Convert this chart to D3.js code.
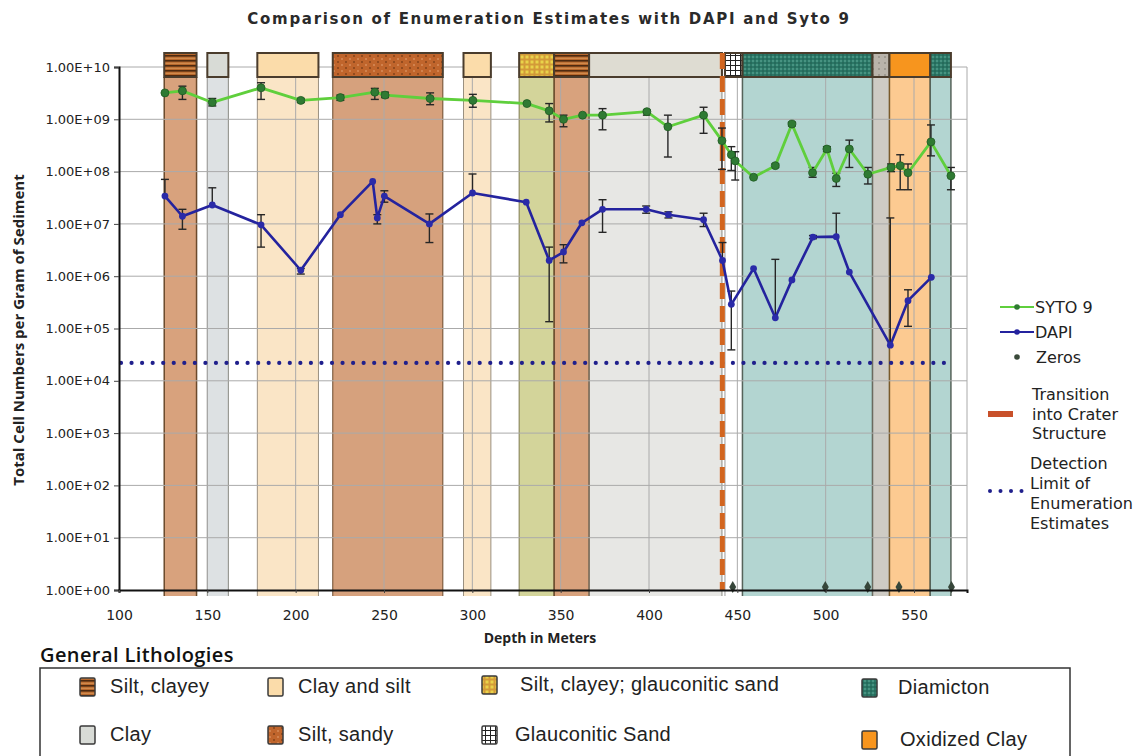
<!DOCTYPE html>
<html>
<head>
<meta charset="utf-8">
<script src="https://cdn.jsdelivr.net/npm/d3@7"></script>
<style>
  body { margin: 0; background: #fff; }
  svg { display: block; }
</style>
</head>
<body>
<svg id="chart" width="1147" height="756"></svg>
<script>
// ---- SYTO 9 counts (cells per gram) ----
const sytoDepth = [126, 135.9, 152.8, 180.4, 202.9, 225.3, 244.8, 250.6, 276.1, 300.3, 330.9, 343.5, 351.6, 362.4, 373.7, 398.8, 410.7, 430.9, 441.3, 446.6, 448.8, 459.2, 471.5, 480.9, 492.6, 500.7, 506, 513.4, 523.9, 537, 542.2, 546.6, 559.6, 570.9];
const sytoValue = [3.2e9, 3.5e9, 2.1e9, 4.0e9, 2.3e9, 2.6e9, 3.3e9, 2.9e9, 2.5e9, 2.3e9, 2.0e9, 1.45e9, 1.0e9, 1.2e9, 1.2e9, 1.4e9, 7.2e8, 1.2e9, 3.9e8, 2.1e8, 1.6e8, 7.8e7, 1.3e8, 8.1e8, 9.5e7, 2.7e8, 7.4e7, 2.7e8, 8.9e7, 1.2e8, 1.3e8, 9.5e7, 3.7e8, 8.3e7];
const sytoLow   = [null, 2.4e9, 1.8e9, 2.4e9, 2.1e9, 2.3e9, 2.4e9, 2.6e9, 1.9e9, 1.7e9, null, 8.9e8, 7.2e8, null, 6.3e8, 1.2e9, 1.9e8, 5.4e8, 1.1e8, 1.05e8, 6.9e7, null, 1.2e8, 7.5e8, 7.8e7, 2.4e8, 5.2e7, 1.2e8, 5.8e7, 1.0e8, 4.5e7, 4.5e7, 2.0e8, 4.5e7];
const sytoHigh  = [null, 4.3e9, 2.5e9, 5.0e9, 2.5e9, 2.9e9, 3.9e9, 3.3e9, 3.2e9, 3.0e9, null, 2.0e9, 1.2e9, null, 1.6e9, 1.5e9, 1.2e9, 1.7e9, 6.8e8, 3.0e8, 2.4e8, null, 1.4e8, 8.8e8, 1.2e8, 3.0e8, 9.3e7, 4.0e8, 1.2e8, 1.4e8, 2.1e8, 1.4e8, 7.8e8, 1.2e8];

// ---- DAPI counts (cells per gram) ----
const dapiDepth = [126, 135.9, 152.8, 180.4, 202.9, 225.3, 243.6, 246.2, 250.2, 275.7, 300.1, 330.5, 343.5, 351.6, 362, 373.7, 398.4, 411, 430.9, 441.6, 446.6, 459.2, 471.5, 480.9, 492.8, 506, 513.4, 536.6, 546.6, 559.8];
const dapiValue = [3.4e7, 1.4e7, 2.3e7, 9.6e6, 1.3e6, 1.5e7, 6.5e7, 1.3e7, 3.4e7, 1.0e7, 3.9e7, 2.6e7, 2.0e6, 2.9e6, 1.05e7, 1.9e7, 1.9e7, 1.5e7, 1.2e7, 2.0e6, 2.9e5, 1.4e6, 1.6e5, 8.5e5, 5.6e6, 5.7e6, 1.2e6, 4.8e4, 3.4e5, 9.5e5];
const dapiLow   = [null, 7.9e6, null, 3.6e6, 1.1e6, null, null, 1.0e7, 2.6e7, 4.4e6, null, null, 1.35e5, 1.8e6, null, 6.9e6, 1.6e7, 1.3e7, 8.9e6, null, 3.9e4, null, null, null, 5.2e6, null, null, null, 1.1e5, null];
const dapiHigh  = [7.1e7, 1.9e7, 4.9e7, 1.5e7, 1.4e6, null, null, 1.5e7, 4.3e7, 1.55e7, 9.0e7, null, 3.6e6, 4.0e6, null, 2.9e7, 2.2e7, 1.7e7, 1.6e7, 4.4e6, 5.2e5, null, 2.1e6, null, 6.0e6, 1.6e7, null, 1.3e7, 5.5e5, null];

// Depths where no cells were counted
const zeroDepth = [447.4, 499.8, 523.8, 541.5, 571.2];

const detectionLimit = 2.2e4;
const transitionDepth = 441.5;

// ---- Lithology intervals (m) ----
const lithoStart = [125.6, 150, 178.3, 221, 295, 326.5, 346.3, 366.1, 443, 452.9, 526.5, 536.1, 559.2];
const lithoEnd   = [143.9, 161.9, 212.9, 283.3, 310.5, 346.3, 366.1, 441.3, 452.9, 526.5, 536.1, 559.2, 570.9];
const lithoType  = ["siltClayey", "clay", "claySilt", "siltSandy", "claySilt", "siltGlauc", "siltClayey", "clayLight", "glaucSand", "diamicton", "grayClay", "oxidized", "diamicton"];

// ---- Axis ticks ----
const xTicks = [100, 150, 200, 250, 300, 350, 400, 450, 500, 550];
const yTicks = [1, 1e1, 1e2, 1e3, 1e4, 1e5, 1e6, 1e7, 1e8, 1e9, 1e10];
const yTickLabels = ["1.00E+00", "1.00E+01", "1.00E+02", "1.00E+03", "1.00E+04", "1.00E+05", "1.00E+06", "1.00E+07", "1.00E+08", "1.00E+09", "1.00E+10"];

// ---- Legend entries for the lithology key ----
const lithoLegendLabels = ["Silt, clayey", "Clay and silt", "Silt, clayey; glauconitic sand", "Diamicton", "Clay", "Silt, sandy", "Glauconitic Sand", "Oxidized Clay"];
const lithoLegendKeys   = ["siltClayey", "claySilt", "siltGlauc", "diamicton", "clay", "siltSandy", "glaucSand", "oxidized"];

const svg = d3.select("#chart");
const plotLeft = 119, plotRight = 967, plotTop = 67, plotBottom = 590;

const x = d3.scaleLinear().domain([100, 580]).range([plotLeft, plotRight]);
const y = d3.scaleLog().domain([1, 1e10]).range([plotBottom, plotTop]);

// ---- Patterns for the lithology swatches ----
const defs = svg.append("defs");
function pat(id, w, h, bg, draw) {
  const p = defs.append("pattern").attr("id", id).attr("patternUnits", "userSpaceOnUse")
    .attr("width", w).attr("height", h);
  p.append("rect").attr("width", w).attr("height", h).attr("fill", bg);
  draw(p);
}
pat("p-siltClayey", 6, 5, "#b8682c", p => {
  p.append("rect").attr("y", 0).attr("width", 6).attr("height", 1.6).attr("fill", "#4e2a10");
  p.append("rect").attr("y", 2.8).attr("width", 6).attr("height", 0.8).attr("fill", "#e0a060");
});
pat("p-siltSandy", 8, 6, "#c0652c", p => {
  p.append("circle").attr("cx", 2).attr("cy", 2).attr("r", 0.8).attr("fill", "#5a2a0c");
  p.append("circle").attr("cx", 6).attr("cy", 5).attr("r", 0.8).attr("fill", "#e8a878");
});
pat("p-siltGlauc", 5, 5, "#d39a38", p => {
  p.append("rect").attr("x", 0.5).attr("y", 0.5).attr("width", 3).attr("height", 3).attr("fill", "#e9d34a");
});
pat("p-glaucSand", 5, 5, "#ffffff", p => {
  p.append("path").attr("d", "M0,0.5H5M0.5,0V5").attr("stroke", "#222").attr("stroke-width", 1);
});
pat("p-diamicton", 4, 4, "#2b7766", p => {
  p.append("circle").attr("cx", 1).attr("cy", 1).attr("r", 0.8).attr("fill", "#6cb6a4");
  p.append("circle").attr("cx", 3).attr("cy", 3).attr("r", 0.8).attr("fill", "#1f5a4c");
});
pat("p-grayClay", 6, 6, "#b9b3aa", p => {
  p.append("circle").attr("cx", 3).attr("cy", 3).attr("r", 0.8).attr("fill", "#7c776f");
});

const lithoStyle = {
  siltClayey: { band: "#d8a27d", box: "url(#p-siltClayey)", edge: "#6b4a2c", ew: 1.5 },
  clay:       { band: "#dde1e3", box: "#d8dbd6", edge: "#8a8a82", ew: 1 },
  claySilt:   { band: "#fae5c6", box: "#fbdcaa", edge: "#9a9080", ew: 1 },
  siltSandy:  { band: "#d6a17d", box: "url(#p-siltSandy)", edge: "#6b4a2c", ew: 1 },
  siltGlauc:  { band: "#d3d49a", box: "url(#p-siltGlauc)", edge: "#7f7a50", ew: 1 },
  clayLight:  { band: "#e7e7e4", box: "#dedcd2", edge: "#8a8a82", ew: 1 },
  glaucSand:  { band: "none",    box: "url(#p-glaucSand)", edge: "#9a9a9a", ew: 1 },
  diamicton:  { band: "#b3d5d1", box: "url(#p-diamicton)", edge: "#56635a", ew: 1.5 },
  grayClay:   { band: "#cecbc4", box: "url(#p-grayClay)", edge: "#6e6a60", ew: 1 },
  oxidized:   { band: "#fcca91", box: "#f7951e", edge: "#7a5a2a", ew: 1.5 }
};

const litho = lithoStart.map((s, i) => ({ s, e: lithoEnd[i], t: lithoType[i] }));

// bands beneath everything
const bandG = svg.append("g");
bandG.selectAll("rect").data(litho).join("rect")
  .attr("x", d => x(d.s)).attr("width", d => x(d.e) - x(d.s))
  .attr("y", 77).attr("height", 596 - 77)
  .attr("fill", d => lithoStyle[d.t].band);
bandG.selectAll("path").data(litho).join("path")
  .attr("d", d => `M${x(d.s)},77V596M${x(d.e)},77V596`)
  .attr("stroke", d => lithoStyle[d.t].edge)
  .attr("stroke-width", d => lithoStyle[d.t].ew)
  .attr("fill", "none");

// grid
const grid = svg.append("g").attr("stroke", "#aaaaaa").attr("stroke-width", 1);
grid.selectAll(".gy").data(yTicks.slice(1)).join("line")
  .attr("x1", plotLeft).attr("x2", plotRight).attr("y1", d => y(d)).attr("y2", d => y(d));
grid.selectAll(".gx").data(xTicks.slice(1)).join("line")
  .attr("y1", plotTop).attr("y2", plotBottom).attr("x1", d => x(d)).attr("x2", d => x(d));
grid.append("line").attr("x1", plotRight).attr("x2", plotRight).attr("y1", plotTop).attr("y2", plotBottom);

// detection limit
const dlDots = d3.range(0, 79).map(i => plotLeft + 2 + i * 10.55);
svg.append("g").selectAll("circle").data(dlDots).join("circle")
  .attr("cx", d => d).attr("cy", y(detectionLimit)).attr("r", 2.1).attr("fill", "#1f1f8c");

// lithology header boxes
svg.append("g").selectAll("rect").data(litho).join("rect")
  .attr("x", d => x(d.s)).attr("width", d => x(d.e) - x(d.s))
  .attr("y", 53).attr("height", 24)
  .attr("fill", d => lithoStyle[d.t].box)
  .attr("stroke", "#4a3c2c").attr("stroke-width", 2);

// transition into crater structure
svg.append("line")
  .attr("x1", x(transitionDepth)).attr("x2", x(transitionDepth))
  .attr("y1", 53).attr("y2", plotBottom)
  .attr("stroke", "#d2651f").attr("stroke-width", 5)
  .attr("stroke-dasharray", "16,7");

// error bars
function errorBars(depth, val, lo, hi) {
  const g = svg.append("g").attr("stroke", "#262626").attr("stroke-width", 1.4);
  depth.forEach((d, i) => {
    if (lo[i] == null && hi[i] == null) return;
    const a = lo[i] == null ? val[i] : lo[i];
    const b = hi[i] == null ? val[i] : hi[i];
    const cx = x(d);
    g.append("line").attr("x1", cx).attr("x2", cx).attr("y1", y(a)).attr("y2", y(b));
    if (hi[i] != null) g.append("line").attr("x1", cx - 4).attr("x2", cx + 4).attr("y1", y(b)).attr("y2", y(b));
    if (lo[i] != null) g.append("line").attr("x1", cx - 4).attr("x2", cx + 4).attr("y1", y(a)).attr("y2", y(a));
  });
}
errorBars(sytoDepth, sytoValue, sytoLow, sytoHigh);
errorBars(dapiDepth, dapiValue, dapiLow, dapiHigh);

const line = d3.line().x(d => x(d[0])).y(d => y(d[1]));
const sytoPts = sytoDepth.map((d, i) => [d, sytoValue[i]]);
const dapiPts = dapiDepth.map((d, i) => [d, dapiValue[i]]);

svg.append("path").datum(sytoPts).attr("d", line)
  .attr("fill", "none").attr("stroke", "#5fcf3c").attr("stroke-width", 2.8).attr("stroke-linejoin", "round");
svg.append("g").selectAll("circle").data(sytoPts).join("circle")
  .attr("cx", d => x(d[0])).attr("cy", d => y(d[1])).attr("r", 4)
  .attr("fill", "#2f7a33").attr("stroke", "#1f5a22").attr("stroke-width", 0.8);

svg.append("path").datum(dapiPts).attr("d", line)
  .attr("fill", "none").attr("stroke", "#24239e").attr("stroke-width", 2.6).attr("stroke-linejoin", "round");
svg.append("g").selectAll("circle").data(dapiPts).join("circle")
  .attr("cx", d => x(d[0])).attr("cy", d => y(d[1])).attr("r", 3.4)
  .attr("fill", "#2a2aa8");

// zero counts sit on the axis floor
const zeroSym = d3.symbol().type(d3.symbolDiamond).size(42);
svg.append("g").selectAll("path").data(zeroDepth).join("path")
  .attr("transform", d => `translate(${x(d)},${y(1) - 3})`)
  .attr("d", zeroSym)
  .attr("fill", "#36463a");

// axes
const yAxis = d3.axisLeft(y).tickValues(yTicks).tickFormat((d, i) => yTickLabels[i]).tickSize(5).tickPadding(4);
const yg = svg.append("g").attr("transform", `translate(${plotLeft},0)`).call(yAxis);
yg.select(".domain").attr("stroke", "#111").attr("stroke-width", 2);
yg.selectAll(".tick line").attr("stroke", "#444");
yg.selectAll("text").attr("font-family", "DejaVu Sans, sans-serif").attr("font-size", 13).attr("fill", "#222");

const xAxis = d3.axisBottom(x).tickValues(xTicks).tickSize(3).tickPadding(17);
const xg = svg.append("g").attr("transform", `translate(0,${plotBottom})`).call(xAxis);
xg.select(".domain").attr("stroke", "#111").attr("stroke-width", 2);
xg.selectAll(".tick line").attr("stroke", "#444");
xg.selectAll("text").attr("font-family", "DejaVu Sans, sans-serif").attr("font-size", 14).attr("fill", "#222");

// titles
svg.append("text").attr("x", 549).attr("y", 24).attr("text-anchor", "middle")
  .attr("font-family", "DejaVu Sans, sans-serif").attr("font-size", 15).attr("font-weight", "bold")
  .attr("letter-spacing", 1.7).attr("fill", "#2a2a2a")
  .text("Comparison of Enumeration Estimates with DAPI and Syto 9");
svg.append("text").attr("transform", "translate(24,330) rotate(-90)").attr("text-anchor", "middle")
  .attr("font-family", "Open Sans, sans-serif").attr("font-size", 15).attr("font-weight", "bold").attr("fill", "#222")
  .text("Total Cell Numbers per Gram of Sediment");
svg.append("text").attr("x", 540).attr("y", 643).attr("text-anchor", "middle")
  .attr("font-family", "Open Sans, sans-serif").attr("font-size", 14).attr("font-weight", "bold").attr("fill", "#222")
  .text("Depth in Meters");

// series legend
const lg = svg.append("g").attr("font-family", "DejaVu Sans, sans-serif").attr("font-size", 16).attr("fill", "#222");
lg.append("line").attr("x1", 1000).attr("x2", 1034).attr("y1", 307).attr("y2", 307).attr("stroke", "#5fcf3c").attr("stroke-width", 2);
lg.append("circle").attr("cx", 1017).attr("cy", 307).attr("r", 2.8).attr("fill", "#2f7a33");
lg.append("text").attr("x", 1035).attr("y", 313).text("SYTO 9");
lg.append("line").attr("x1", 1000).attr("x2", 1034).attr("y1", 332).attr("y2", 332).attr("stroke", "#24239e").attr("stroke-width", 2);
lg.append("circle").attr("cx", 1017).attr("cy", 332).attr("r", 2.8).attr("fill", "#24239e");
lg.append("text").attr("x", 1035).attr("y", 338).text("DAPI");
lg.append("circle").attr("cx", 1017).attr("cy", 357).attr("r", 2.8).attr("fill", "#3a4a3a");
lg.append("text").attr("x", 1036).attr("y", 363).text("Zeros");
lg.append("rect").attr("x", 988).attr("y", 411).attr("width", 25).attr("height", 6).attr("fill", "#c8502a");
["Transition", "into Crater", "Structure"].forEach((t, i) =>
  lg.append("text").attr("x", 1032).attr("y", 400 + i * 19.5).text(t));
[990, 1000.5, 1011, 1021.5].forEach(cx =>
  lg.append("circle").attr("cx", cx).attr("cy", 491).attr("r", 2).attr("fill", "#1f1f8c"));
["Detection", "Limit of", "Enumeration", "Estimates"].forEach((t, i) =>
  lg.append("text").attr("x", 1030).attr("y", 469 + i * 20).text(t));

// lithology key
svg.append("text").attr("x", 40).attr("y", 662)
  .attr("font-family", "Open Sans, sans-serif").attr("font-size", 20).attr("font-weight", 600)
  .attr("letter-spacing", 0.4).attr("fill", "#111")
  .text("General Lithologies");
svg.append("rect").attr("x", 40).attr("y", 668).attr("width", 1030).attr("height", 100)
  .attr("fill", "none").attr("stroke", "#333").attr("stroke-width", 1.5);

const keyIconX = [80, 268, 482, 862, 80, 268, 482, 862];
const keyTextX = [110, 298, 520, 898, 110, 298, 515, 900];
const keyRowY  = [687, 687, 685, 688, 735, 735, 735, 740];
const kg = svg.append("g");
lithoLegendLabels.forEach((lab, i) => {
  const st = lithoStyle[lithoLegendKeys[i]];
  kg.append("rect").attr("x", keyIconX[i]).attr("y", keyRowY[i] - 9).attr("width", 15).attr("height", 18)
    .attr("fill", st.box).attr("stroke", "#3a3a3a").attr("stroke-width", 1.5).attr("rx", 1.5);
  kg.append("text").attr("x", keyTextX[i]).attr("y", keyRowY[i] + 6)
    .attr("font-family", "Liberation Sans, Arial, sans-serif").attr("font-size", 20)
    .attr("letter-spacing", 0.3).attr("fill", "#222")
    .text(lab);
});
</script>
</body>
</html>
